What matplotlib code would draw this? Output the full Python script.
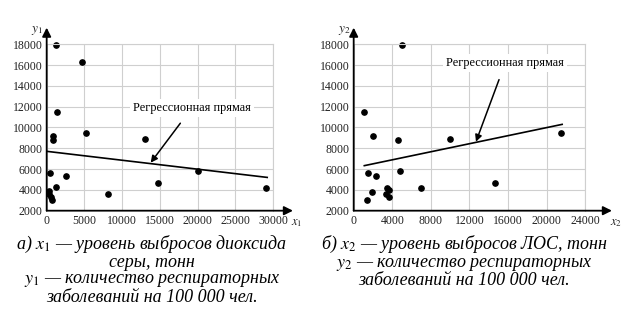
import numpy as np
import matplotlib
matplotlib.use("Agg")
import matplotlib.pyplot as plt

plt.rcParams['font.family'] = ['Liberation Serif', 'DejaVu Serif']
plt.rcParams['mathtext.fontset'] = 'stix'

# --- data ---
# (a) sulphur dioxide emissions vs respiratory diseases
x1 = [1200, 4700, 1400, 5200, 900, 800, 13000, 20000, 450, 2500,
      14700, 1200, 29000, 350, 8100, 300, 550, 750]
y1 = [17900, 16300, 11500, 9500, 9150, 8800, 8900, 5850, 5650, 5350,
      4700, 4250, 4200, 3900, 3650, 3600, 3300, 3050]
reg1_x = [100, 29200]
reg1_y = [7700, 5200]

# (b) VOC emissions vs respiratory diseases
x2 = [5000, 1100, 2050, 4550, 10000, 21500, 14600, 7000, 1500, 2300,
      4800, 3500, 3650, 1850, 3350, 3650, 1350]
y2 = [17900, 11500, 9150, 8800, 8900, 9500, 4700, 4200, 5600, 5350,
      5850, 4200, 4000, 3750, 3600, 3350, 3050]
reg2_x = [1100, 21600]
reg2_y = [6330, 10300]

yticks = np.arange(2000, 18001, 2000)
xticks1 = np.arange(0, 30001, 5000)
xticks2 = np.arange(0, 24001, 4000)

label_txt = 'Регрессионная прямая'
cap1 = ('а) $x_1$ — уровень выбросов диоксида\nсеры, тонн\n'
        '$y_1$ — количество респираторных\nзаболеваний на 100 000 чел.')
cap2 = ('б) $x_2$ — уровень выбросов ЛОС, тонн\n'
        '$y_2$ — количество респираторных\nзаболеваний на 100 000 чел.')

fig = plt.figure(figsize=(6.24, 3.2), dpi=100)
ax1 = fig.add_axes([0.0748, 0.3416, 0.3631, 0.52])
ax2 = fig.add_axes([0.5668, 0.3416, 0.3712, 0.52])


def setup(ax, xticks, xmax, xname, yname, ext):
    ax.set_xlim(0, xmax)
    ax.set_ylim(2000, 18000)
    ax.set_xticks(xticks)
    ax.set_yticks(yticks)
    ax.grid(True, color='#cfcfcf', lw=0.8)
    ax.set_axisbelow(True)
    ax.tick_params(length=0, labelsize=8.5, colors='#222222', pad=3)
    for s in ['top', 'right']:
        ax.spines[s].set_color('#cfcfcf')
        ax.spines[s].set_linewidth(0.8)
    for s in ['left', 'bottom']:
        ax.spines[s].set_visible(False)
    # axes with arrows
    ax.annotate('', xy=(1 + ext, 0), xytext=(0, 0), xycoords='axes fraction',
                arrowprops=dict(arrowstyle='-|>', color='black', lw=1.3,
                                mutation_scale=13, shrinkA=0, shrinkB=0))
    ax.annotate('', xy=(0, 1.1), xytext=(0, 0), xycoords='axes fraction',
                arrowprops=dict(arrowstyle='-|>', color='black', lw=1.3,
                                mutation_scale=13, shrinkA=0, shrinkB=0))
    ax.text(1 + ext - 0.01, -0.035, xname, transform=ax.transAxes,
            fontsize=9, va='top', ha='left', color='#222222')
    ax.text(-0.015, 1.08, yname, transform=ax.transAxes,
            fontsize=9.5, va='center', ha='right', color='#222222')


setup(ax1, xticks1, 30000, '$x_1$', '$y_1$', 0.087)
setup(ax2, xticks2, 24000, '$x_2$', '$y_2$', 0.115)

ax1.plot(x1, y1, 'o', color='black', ms=3.8, clip_on=False)
ax1.plot(reg1_x, reg1_y, color='black', lw=1.2)
ax1.annotate(label_txt, xy=(13770, 6615), xytext=(19240, 11900),
             ha='center', va='center', fontsize=8.8,
             bbox=dict(fc='white', ec='none', pad=2),
             arrowprops=dict(arrowstyle='-|>', color='black', lw=1.1,
                             mutation_scale=10, shrinkA=6, shrinkB=0))

ax2.plot(x2, y2, 'o', color='black', ms=3.8, clip_on=False)
ax2.plot(reg2_x, reg2_y, color='black', lw=1.2)
ax2.annotate(label_txt, xy=(12670, 8630), xytext=(15700, 16200),
             ha='center', va='center', fontsize=8.8,
             bbox=dict(fc='white', ec='none', pad=2),
             arrowprops=dict(arrowstyle='-|>', color='black', lw=1.1,
                             mutation_scale=10, shrinkA=6, shrinkB=0))

fig.text(0.2436, 0.27, cap1, ha='center', va='top', fontsize=13,
         style='italic', linespacing=0.95)
fig.text(0.744, 0.27, cap2, ha='center', va='top', fontsize=13,
         style='italic', linespacing=0.95)

fig.savefig('out.png', dpi=100)
